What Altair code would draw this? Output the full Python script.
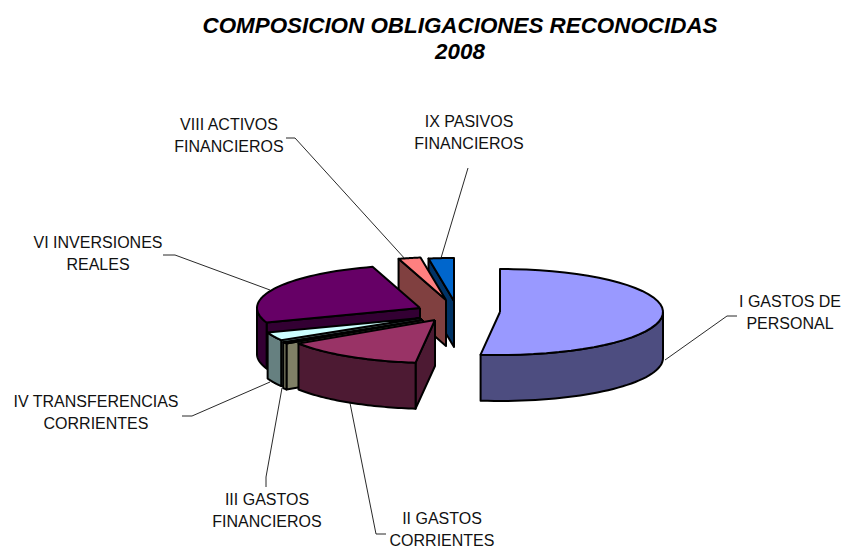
import math
import altair as alt
import pandas as pd

categories = ["I GASTOS DE PERSONAL", "II GASTOS CORRIENTES", "III GASTOS FINANCIEROS",
              "IV TRANSFERENCIAS CORRIENTES", "VI INVERSIONES REALES",
              "VIII ACTIVOS FINANCIEROS", "IX PASIVOS FINANCIEROS"]
values = [51.9, 13.9, 0.6, 3.1, 25.8, 2.2, 2.5]

top_colors = ["#9999FF", "#993366", "#999977", "#CCFFFF", "#660066", "#FF8080", "#0066CC"]
wall_colors = ["#4D4D80", "#4D1A33", "#808066", "#668080", "#330033", "#804040", "#003366"]

# exploded slice centres and pie proportions, in page pixels
centre_x = [500, 435, 423, 421, 420, 446, 454]
centre_y = [312, 320, 320, 318, 308, 300, 301]
RX, RY, DEPTH = 163, 43, 46
draw_order = [6, 5, 4, 3, 2, 1, 0]

label_lines = [["I GASTOS DE", "PERSONAL"], ["II GASTOS", "CORRIENTES"], ["III GASTOS", "FINANCIEROS"],
               ["IV TRANSFERENCIAS", "CORRIENTES"], ["VI INVERSIONES", "REALES"],
               ["VIII ACTIVOS", "FINANCIEROS"], ["IX PASIVOS", "FINANCIEROS"]]
label_x = [790, 442, 267, 96, 98, 229, 469]
label_y = [302, 519, 500, 402, 243, 125, 122]
leaders = [
    [(737, 316), (727, 316), (665, 360)],
    [(386, 534), (376, 534), (350, 403)],
    [(266, 487), (266, 477), (282, 388)],
    [(182, 416), (192, 416), (270, 382)],
    [(163, 255), (175, 255), (270, 290)],
    [(286, 138), (295, 138), (406, 260)],
    [(468, 168), (441, 258)],
]

W, H = 834, 542
X = alt.Scale(domain=[8, 8 + W], range=[0, W])
Y = alt.Scale(domain=[8, 8 + H], range=[0, H])
xe = alt.X("x:Q", scale=X, axis=None)
ye = alt.Y("y:Q", scale=Y, axis=None)


def pt(i, a, down=0):
    r = math.radians(a)
    return (centre_x[i] + RX * math.sin(r), centre_y[i] - RY * math.cos(r) + down)


def arc(i, a1, a2, down=0, steps=40):
    return [pt(i, a1 + (a2 - a1) * k / steps, down) for k in range(steps + 1)]


def poly(points, fill):
    pts = list(points) + [points[0]]
    df = pd.DataFrame({"x": [p[0] for p in pts], "y": [p[1] for p in pts], "k": range(len(pts))})
    return alt.Chart(df).mark_line(fill=fill, stroke="black", strokeWidth=2, strokeJoin="round", clip=False).encode(
        x=xe, y=ye, order="k:Q")


layers = []
# leader lines under the pie
lead_rows = []
for n, path in enumerate(leaders):
    for k, (lx, ly) in enumerate(path):
        lead_rows.append({"x": lx, "y": ly, "k": k, "s": n})
layers.append(alt.Chart(pd.DataFrame(lead_rows)).mark_line(color="#111111", strokeWidth=0.9).encode(
    x=xe, y=ye, order="k:Q", detail="s:N"))

total = sum(values)
starts = []
acc = 0
for v in values:
    starts.append(acc)
    acc += v
for i in draw_order:
    a1 = starts[i] / total * 360
    a2 = (starts[i] + values[i]) / total * 360
    c = (centre_x[i], centre_y[i])
    # radial face at the start of the slice
    if i != 0:
        p = pt(i, a1)
        layers.append(poly([c, p, (p[0], p[1] + DEPTH), (c[0], c[1] + DEPTH)], wall_colors[i]))
    # outer wall, only where it faces the viewer
    lo, hi = max(a1, 90), min(a2, 270)
    if hi > lo:
        layers.append(poly(arc(i, lo, hi) + arc(i, hi, lo, DEPTH), wall_colors[i]))
    layers.append(poly([c] + arc(i, a1, a2), top_colors[i]))

rows = []
for lines, lx, ly in zip(label_lines, label_x, label_y):
    for n, t in enumerate(lines):
        rows.append({"x": lx, "y": ly + n * 22, "t": t})
layers.append(alt.Chart(pd.DataFrame(rows)).mark_text(font="Liberation Sans", fontSize=16, color="#111111").encode(
    x=xe, y=ye, text="t:N"))

titles = pd.DataFrame({"x": [460, 460], "y": [26, 52], "t": ["COMPOSICION OBLIGACIONES RECONOCIDAS", "2008"]})
layers.append(alt.Chart(titles).mark_text(font="Liberation Sans", fontSize=22.4, fontWeight="bold", fontStyle="italic",
                                          color="black").encode(x=xe, y=ye, text="t:N"))

chart = alt.layer(*layers).properties(width=W, height=H, padding=0, autosize=alt.AutoSizeParams(type="none")).configure_view(stroke=None)
chart.save("out.html", embed_options={"renderer": "svg", "actions": False})
